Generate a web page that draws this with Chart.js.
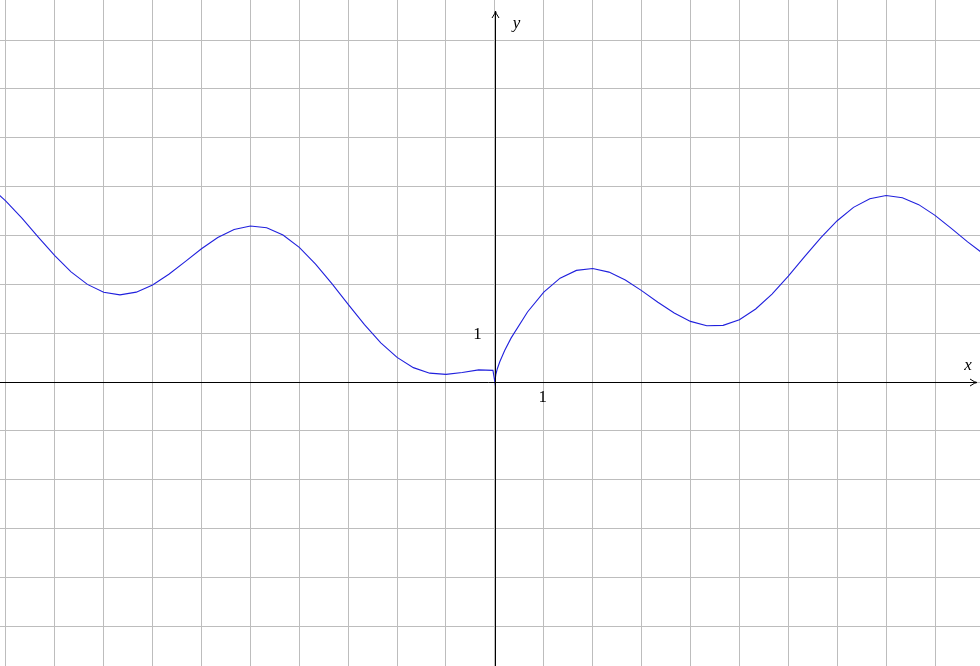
<!DOCTYPE html>
<html>
<head>
<meta charset="utf-8">
<script src="https://cdn.jsdelivr.net/npm/chart.js@4.4.1/dist/chart.umd.min.js"></script>
<style>
  html, body { margin: 0; padding: 0; background: #fff; }
  #wrap { width: 980px; height: 666px; position: relative; }
</style>
</head>
<body>
<div id="wrap"><canvas id="c" width="980" height="666"></canvas></div>
<script>
// Curve samples (x, y)
const xValues = [-10.333, -10, -9.667, -9.333, -9, -8.667, -8.333, -8, -7.667, -7.333, -7, -6.667, -6.333, -6, -5.667, -5.333, -5, -4.667, -4.333, -4,
  -3.667, -3.333, -3, -2.667, -2.333, -2, -1.667, -1.333, -1, -0.667, -0.333, -0.04,
  0, 0.02, 0.05, 0.1, 0.2, 0.333, 0.667, 1, 1.333, 1.667, 2, 2.333, 2.667, 3, 3.333, 3.667, 4, 4.333, 4.667, 5,
  5.333, 5.667, 6, 6.333, 6.667, 7, 7.333, 7.667, 8, 8.333, 8.667, 9, 9.333, 9.667, 10];
const yValues = [4.003, 3.706, 3.349, 2.964, 2.588, 2.256, 2.000, 1.839, 1.786, 1.841, 1.989, 2.208, 2.467, 2.729, 2.959, 3.123, 3.195, 3.159, 3.011, 2.757,
  2.416, 2.016, 1.591, 1.176, 0.804, 0.505, 0.296, 0.183, 0.159, 0.198, 0.250, 0.240,
  0, 0.161, 0.274, 0.416, 0.646, 0.905, 1.435, 1.842, 2.127, 2.286, 2.324, 2.251, 2.090, 1.873, 1.635, 1.414, 1.243, 1.153, 1.161, 1.277,
  1.496, 1.802, 2.170, 2.567, 2.956, 3.303, 3.576, 3.751, 3.818, 3.774, 3.632, 3.412, 3.146, 2.870, 2.618];

const xRange = [-10.12, 9.92];
const yRange = [-5.81, 7.82];
const xTickLabels = [{ value: 1, text: '1' }];
const yTickLabels = [{ value: 1, text: '1' }];
const xAxisLabel = 'x';
const yAxisLabel = 'y';

const points = xValues.map((x, i) => ({ x: x, y: yValues[i] }));

const axesPlugin = {
  id: 'axesPlugin',
  afterDraw(chart) {
    const ctx = chart.ctx;
    const xs = chart.scales.x, ys = chart.scales.y;
    const ox = Math.round(xs.getPixelForValue(0)) + 0.5;
    const oy = Math.round(ys.getPixelForValue(0)) + 0.5;
    const W = chart.width, H = chart.height;
    ctx.save();
    ctx.strokeStyle = '#000';
    ctx.fillStyle = '#000';
    ctx.lineWidth = 1;
    ctx.beginPath();
    ctx.moveTo(0, oy);
    ctx.lineTo(W - 3, oy);
    ctx.stroke();
    ctx.beginPath();
    ctx.moveTo(ox, H);
    ctx.lineTo(ox, 12);
    ctx.stroke();
    function arrow(tx, ty, dx, dy) {
      const len = 7, wid = 3.5;
      const px = -dy, py = dx;
      ctx.beginPath();
      ctx.moveTo(tx - dx * len + px * wid, ty - dy * len + py * wid);
      ctx.quadraticCurveTo(tx - dx * 2, ty - dy * 2, tx, ty);
      ctx.quadraticCurveTo(tx - dx * 2, ty - dy * 2, tx - dx * len - px * wid, ty - dy * len - py * wid);
      ctx.stroke();
    }
    arrow(W - 3, oy, 1, 0);
    arrow(ox, 11, 0, -1);
    ctx.font = 'italic 17px "Liberation Serif", "DejaVu Serif", serif';
    ctx.textAlign = 'center';
    ctx.textBaseline = 'middle';
    ctx.fillText(yAxisLabel, ox + 21, 24);
    ctx.fillText(xAxisLabel, W - 12, oy - 17);
    ctx.font = '17px "Liberation Serif", "DejaVu Serif", serif';
    xTickLabels.forEach(t => {
      ctx.fillText(t.text, xs.getPixelForValue(t.value) - 1, oy + 15);
    });
    yTickLabels.forEach(t => {
      ctx.fillText(t.text, ox - 18, ys.getPixelForValue(t.value) + 1);
    });
    ctx.restore();
  }
};

new Chart(document.getElementById('c'), {
  type: 'scatter',
  data: {
    datasets: [{
      data: points,
      showLine: true,
      borderColor: '#2020dd',
      borderWidth: 1.1,
      pointRadius: 0,
      tension: 0,
      fill: false
    }]
  },
  options: {
    responsive: false,
    devicePixelRatio: 1,
    animation: false,
    layout: { padding: 0 },
    plugins: { legend: { display: false }, tooltip: { enabled: false } },
    scales: {
      x: {
        type: 'linear',
        min: xRange[0], max: xRange[1],
        ticks: { display: false, stepSize: 1, includeBounds: false, autoSkip: false },
        grid: { color: '#bdbdbd', lineWidth: 1, drawTicks: false },
        border: { display: false }
      },
      y: {
        type: 'linear',
        min: yRange[0], max: yRange[1],
        ticks: { display: false, stepSize: 1, includeBounds: false, autoSkip: false },
        grid: { color: '#bdbdbd', lineWidth: 1, drawTicks: false },
        border: { display: false }
      }
    }
  },
  plugins: [axesPlugin]
});
</script>
</body>
</html>
